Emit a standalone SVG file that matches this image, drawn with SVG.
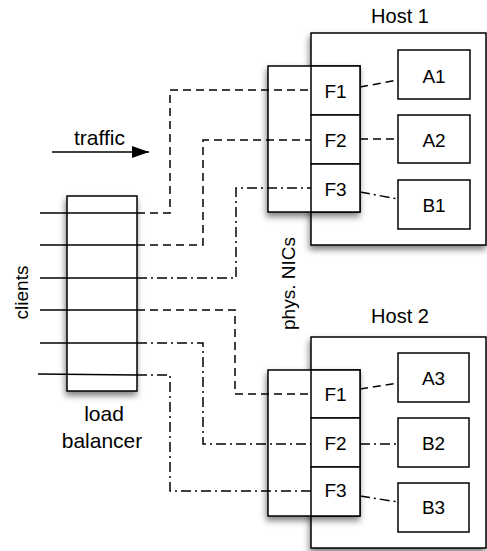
<svg xmlns="http://www.w3.org/2000/svg" width="487" height="551" viewBox="0 0 487 551">
<defs>
<filter id="sh" x="-20%" y="-20%" width="140%" height="140%">
<feDropShadow dx="-1" dy="4" stdDeviation="3" flood-color="#000" flood-opacity="0.5"/>
</filter>
<marker id="arr" markerWidth="17" markerHeight="12" refX="17" refY="6" orient="auto" markerUnits="userSpaceOnUse">
<path d="M0,0 L17,6 L0,12 Z" fill="#000"/>
</marker>
<style>
.box{fill:#fff;stroke:#000;stroke-width:1.5}
.t{font-family:"Liberation Sans",Arial,sans-serif;font-size:19px;fill:#000}
.m{text-anchor:middle}
.solid{fill:none;stroke:#000;stroke-width:1.5}
.dash{fill:none;stroke:#000;stroke-width:1.5;stroke-dasharray:8,5}
.dd{fill:none;stroke:#000;stroke-width:1.5;stroke-dasharray:10,4,2,4}
</style>
</defs>

<g id="host1">
<rect class="box" x="311" y="33" width="175" height="212" filter="url(#sh)"/>
<text class="t m" x="400" y="23" style="font-size:20px">Host 1</text>
</g>
<g id="host2">
<rect class="box" x="311" y="337" width="175" height="211" filter="url(#sh)"/>
<text class="t m" x="400" y="323" style="font-size:20px">Host 2</text>
</g>

<g id="lb">
<rect class="box" x="67" y="196" width="70" height="195" filter="url(#sh)"/>
<text class="t m" x="104" y="421" style="font-size:21px">load</text>
<text class="t m" x="102" y="448" style="font-size:21px">balancer</text>
</g>

<g id="nic1">
<rect class="box" x="268" y="66" width="92" height="146" filter="url(#sh)"/>
</g>
<g id="nic2">
<rect class="box" x="268" y="370" width="92" height="146" filter="url(#sh)"/>
</g>
<g id="nics-label">
<text class="t m" transform="translate(295,283.5) rotate(-90)">phys. NICs</text>
</g>
<g id="clients-label">
<text class="t m" transform="translate(28,292.5) rotate(-90)">clients</text>
</g>

<g id="h1f1"><rect class="box" x="311" y="66" width="49" height="49"/><text class="t m" x="335.5" y="97.5">F1</text></g>
<g id="h1f2"><rect class="box" x="311" y="115" width="49" height="49"/><text class="t m" x="335.5" y="146.5">F2</text></g>
<g id="h1f3"><rect class="box" x="311" y="164" width="49" height="48"/><text class="t m" x="335.5" y="195.5">F3</text></g>
<g id="a1"><rect class="box" x="398" y="50" width="72" height="49"/><text class="t m" x="434" y="83">A1</text></g>
<g id="a2"><rect class="box" x="398" y="115" width="72" height="48"/><text class="t m" x="434" y="146.5">A2</text></g>
<g id="b1"><rect class="box" x="398" y="180" width="72" height="49"/><text class="t m" x="434" y="211.5">B1</text></g>

<g id="h2f1"><rect class="box" x="311" y="370" width="49" height="48"/><text class="t m" x="335.5" y="400.5">F1</text></g>
<g id="h2f2"><rect class="box" x="311" y="418" width="49" height="49"/><text class="t m" x="335.5" y="449.5">F2</text></g>
<g id="h2f3"><rect class="box" x="311" y="467" width="49" height="49"/><text class="t m" x="335.5" y="497">F3</text></g>
<g id="a3"><rect class="box" x="398" y="353" width="71" height="49"/><text class="t m" x="433.5" y="384.5">A3</text></g>
<g id="b2"><rect class="box" x="398" y="418" width="71" height="49"/><text class="t m" x="433.5" y="449.5">B2</text></g>
<g id="b3"><rect class="box" x="398" y="483" width="71" height="49"/><text class="t m" x="433.5" y="514">B3</text></g>

<g id="traffic">
<line class="solid" x1="52" y1="152" x2="149" y2="152" marker-end="url(#arr)"/>
<text class="t" x="74" y="145" style="font-size:21px">traffic</text>
</g>

<g id="connectors">
<line class="solid" x1="40" y1="213" x2="137" y2="213"/>
<line class="solid" x1="40" y1="245" x2="137" y2="245"/>
<line class="solid" x1="40" y1="278" x2="137" y2="278"/>
<line class="solid" x1="40" y1="310" x2="137" y2="310"/>
<line class="solid" x1="40" y1="343" x2="137" y2="343"/>
<line class="solid" x1="38" y1="374" x2="137" y2="375"/>

<polyline class="dash" points="137,213 170,213 170,90 311,90"/>
<polyline class="dash" points="137,245 203,245 203,140 311,140"/>
<polyline class="dd" points="137,278 236,278 236,188 311,188"/>
<polyline class="dash" points="137,310 235,310 235,394 311,394"/>
<polyline class="dd" points="137,343 203,343 203,444 311,444"/>
<polyline class="dd" points="137,375 170,375 170,491 311,491"/>

<line class="dash" x1="360" y1="87" x2="398" y2="80"/>
<line class="dash" x1="360" y1="139" x2="398" y2="139"/>
<line class="dd" x1="360" y1="192" x2="398" y2="199"/>
<line class="dash" x1="360" y1="389" x2="398" y2="383"/>
<line class="dd" x1="360" y1="444" x2="398" y2="444"/>
<line class="dd" x1="360" y1="496" x2="398" y2="502"/>
</g>
</svg>
